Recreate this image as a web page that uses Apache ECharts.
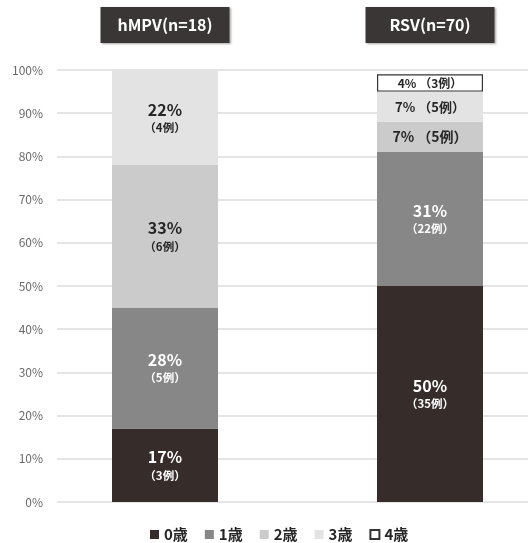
<!DOCTYPE html>
<html>
<head>
<meta charset="utf-8">
<script src="https://cdn.jsdelivr.net/npm/echarts@6/dist/echarts.min.js"></script>
<style>
  html, body { margin: 0; padding: 0; background: #fff; }
  #chart { width: 528px; height: 543px; }
</style>
</head>
<body>
<div id="chart"></div>
<script>
// Virus groups (column headers)
const categories = ['hMPV(n=18)', 'RSV(n=70)'];
// Age groups (stack order, bottom to top)
const ageGroups = ['0歳', '1歳', '2歳', '3歳', '4歳'];
// Share of patients per age group, % (hMPV, RSV)
const share0 = [17, 50];
const share1 = [28, 31];
const share2 = [33, 7];
const share3 = [22, 7];
const share4 = [null, 4];
// Number of cases per age group (hMPV, RSV)
const cases0 = [3, 35];
const cases1 = [5, 22];
const cases2 = [6, 5];
const cases3 = [4, 5];
const cases4 = [null, 3];
// Y axis tick labels
const yTicks = [0, 10, 20, 30, 40, 50, 60, 70, 80, 90, 100];

const shares = [share0, share1, share2, share3, share4];
const cases = [cases0, cases1, cases2, cases3, cases4];
const fills = ['#362c2a', '#878787', '#cbcbcb', '#e3e3e3', '#ffffff'];
const textColors = ['#ffffff', '#ffffff', '#262626', '#262626', '#262626'];
const smallSizes = [13, 13, 14, 13, 12];
const FONT = '"Noto Sans CJK JP", "Noto Sans", sans-serif';

function buildData(s) {
  return shares[s].map((v, i) => {
    if (v === null) return null;
    const n = cases[s][i];
    const color = textColors[s];
    if (v < 10) {
      // thin segment: one-line label
      return {
        value: v,
        label: {
          formatter: v + '% （' + n + '例）',
          fontSize: smallSizes[s],
          fontWeight: 'bold',
          color: color
        }
      };
    }
    return {
      value: v,
      label: {
        formatter: '{p|' + v + '%}\n{c|（' + n + '例）}',
        rich: {
          p: { fontSize: 16, fontWeight: 'bold', color: color, fontFamily: FONT, lineHeight: 20 },
          c: { fontSize: 11.5, fontWeight: 'bold', color: color, fontFamily: FONT, lineHeight: 16 }
        }
      }
    };
  });
}

const series = ageGroups.map((name, s) => ({
  name: name,
  type: 'bar',
  stack: 'total',
  xAxisIndex: 0,
  yAxisIndex: 0,
  barWidth: 106,
  itemStyle: s === 4
    ? { color: fills[s], borderColor: '#333333', borderWidth: 1.2 }
    : { color: fills[s] },
  label: { show: true, position: 'inside', fontFamily: FONT },
  emphasis: { disabled: true },
  data: buildData(s)
}));

const chart = echarts.init(document.getElementById('chart'), null, { renderer: 'canvas' });
chart.setOption({
  animation: false,
  textStyle: { fontFamily: FONT },
  grid: [
    // bar area, wider than the plot so the two columns sit where they belong
    { left: 32.5, right: -34.5, top: 70, bottom: 41, outerBoundsMode: 'none', containLabel: false },
    // plot area carrying the percentage scale and gridlines
    { left: 57, right: 0, top: 70, bottom: 41, outerBoundsMode: 'none', containLabel: false }
  ],
  xAxis: [
    {
      type: 'category',
      gridIndex: 0,
      position: 'top',
      data: categories,
      axisLine: { show: false },
      axisTick: { show: false },
      axisLabel: {
        margin: 27,
        color: '#ffffff',
        fontFamily: FONT,
        fontSize: 16,
        fontWeight: 'bold',
        backgroundColor: '#3b3636',
        width: 109,
        align: 'center',
        padding: [8, 10, 8, 10],
        lineHeight: 20,
        shadowColor: 'rgba(0,0,0,0.35)',
        shadowBlur: 2,
        shadowOffsetX: 1,
        shadowOffsetY: 1
      }
    },
    { type: 'value', gridIndex: 1, show: false }
  ],
  yAxis: [
    { type: 'value', gridIndex: 0, min: 0, max: 100, show: false },
    {
      type: 'value',
      gridIndex: 1,
      min: yTicks[0],
      max: yTicks[yTicks.length - 1],
      interval: 10,
      axisLine: { show: false },
      axisTick: { show: false },
      axisLabel: {
        margin: 14,
        color: '#6a6a6a',
        fontSize: 12,
        fontFamily: FONT,
        formatter: '{value}%'
      },
      splitLine: { lineStyle: { color: '#dcdcdc', width: 1.5 } }
    }
  ],
  legend: {
    data: ageGroups,
    left: 145,
    top: 522,
    icon: 'rect',
    itemWidth: 9,
    itemHeight: 9,
    itemGap: 17,
    selectedMode: false,
    textStyle: { fontSize: 15, fontWeight: 'bold', color: '#262626', fontFamily: FONT }
  },
  series: series
});
</script>
</body>
</html>
